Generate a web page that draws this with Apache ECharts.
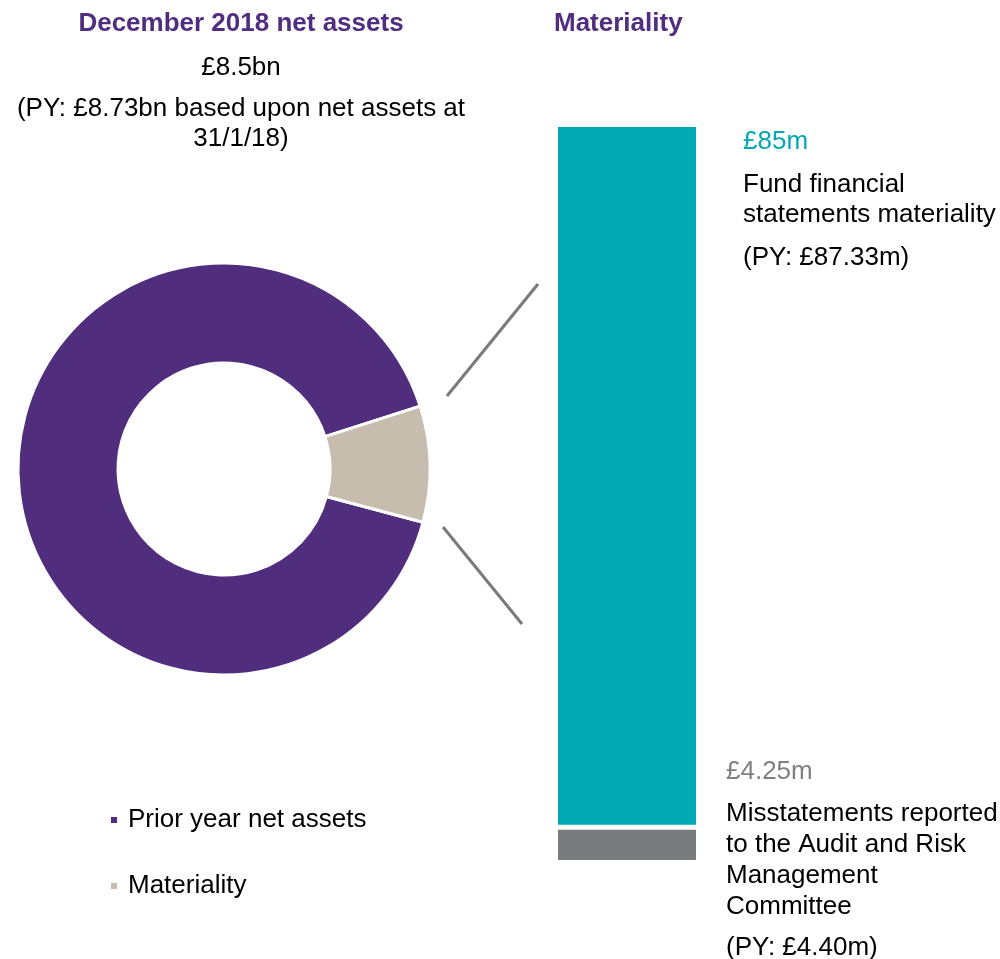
<!DOCTYPE html>
<html>
<head>
<meta charset="utf-8">
<script src="https://cdn.jsdelivr.net/npm/echarts@6/dist/echarts.min.js"></script>
<style>html,body{margin:0;padding:0;background:#fff;}#c{width:1000px;height:959px;}</style>
</head>
<body>
<div id="c"></div>
<script>
// Donut data (share of circle)
var donutNames = ['Prior year net assets', 'Materiality'];
var donutValues = [90.9, 9.1];
var donutColors = ['#512D7D', '#C6BDAF'];

// Stacked bar data (£m)
var barCategories = ['Materiality'];
var materialityValues = [85];
var misstatementValues = [4.25];

var FONT = '"Liberation Sans", Arial, sans-serif';
var chart = echarts.init(document.getElementById('c'));

function txt(x, y, s, opts) {
  opts = opts || {};
  return {
    type: 'text', x: x, y: y + 2,
    style: {
      text: s, fill: opts.fill || '#000', font: (opts.bold ? 'bold ' : '') + '26px ' + FONT,
      textAlign: opts.align || 'left', textVerticalAlign: 'middle'
    }
  };
}

chart.setOption({
  animation: false,
  grid: { left: 555.5, width: 143, top: 124.5, height: 738 },
  xAxis: { type: 'category', data: barCategories, show: false },
  yAxis: { type: 'value', min: 0, max: 89.25, show: false },
  legend: {
    orient: 'vertical', left: 109, top: 805, padding: 0,
    data: donutNames, icon: 'rect', itemWidth: 8, itemHeight: 8, itemGap: 36,
    textStyle: { fontFamily: FONT, fontSize: 26, color: '#000', lineHeight: 30, padding: [0, 0, 0, 5] },
    selectedMode: false
  },
  series: [
    {
      type: 'pie', center: [224, 469], radius: [106, 206], startAngle: -15, clockwise: true,
      label: { show: false }, labelLine: { show: false }, silent: true,
      itemStyle: { borderColor: '#fff', borderWidth: 3 },
      data: donutNames.map(function (n, i) { return { name: n, value: donutValues[i], itemStyle: { color: donutColors[i] } }; })
    },
    {
      type: 'bar', stack: 'm', barWidth: '100%', data: misstatementValues,
      itemStyle: { color: '#7A7B7D', borderColor: '#fff', borderWidth: 2.5 }
    },
    {
      type: 'bar', stack: 'm', barWidth: '100%', data: materialityValues,
      itemStyle: { color: '#00A8B4', borderColor: '#fff', borderWidth: 2.5 }
    }
  ],
  graphic: [
    txt(241, 22, 'December 2018 net assets', { bold: true, fill: '#512D80', align: 'center' }),
    txt(241, 66, '£8.5bn', { align: 'center' }),
    txt(241, 107, '(PY: £8.73bn based upon net assets at', { align: 'center' }),
    txt(241, 137, '31/1/18)', { align: 'center' }),
    txt(554, 22, 'Materiality', { bold: true, fill: '#512D80' }),
    txt(743, 140, '£85m', { fill: '#00A8B4' }),
    txt(743, 183, 'Fund financial'),
    txt(743, 213, 'statements materiality'),
    txt(743, 256, '(PY: £87.33m)'),
    txt(726, 770, '£4.25m', { fill: '#808080' }),
    txt(726, 812, 'Misstatements reported'),
    txt(726, 843, 'to the Audit and Risk'),
    txt(726, 874, 'Management'),
    txt(726, 905, 'Committee'),
    txt(726, 946, '(PY: £4.40m)'),
    { type: 'line', shape: { x1: 447, y1: 396, x2: 538, y2: 284 }, style: { stroke: '#7A7A7A', lineWidth: 3 } },
    { type: 'line', shape: { x1: 443, y1: 527, x2: 522, y2: 624 }, style: { stroke: '#7A7A7A', lineWidth: 3 } }
  ]
});
</script>
</body>
</html>
